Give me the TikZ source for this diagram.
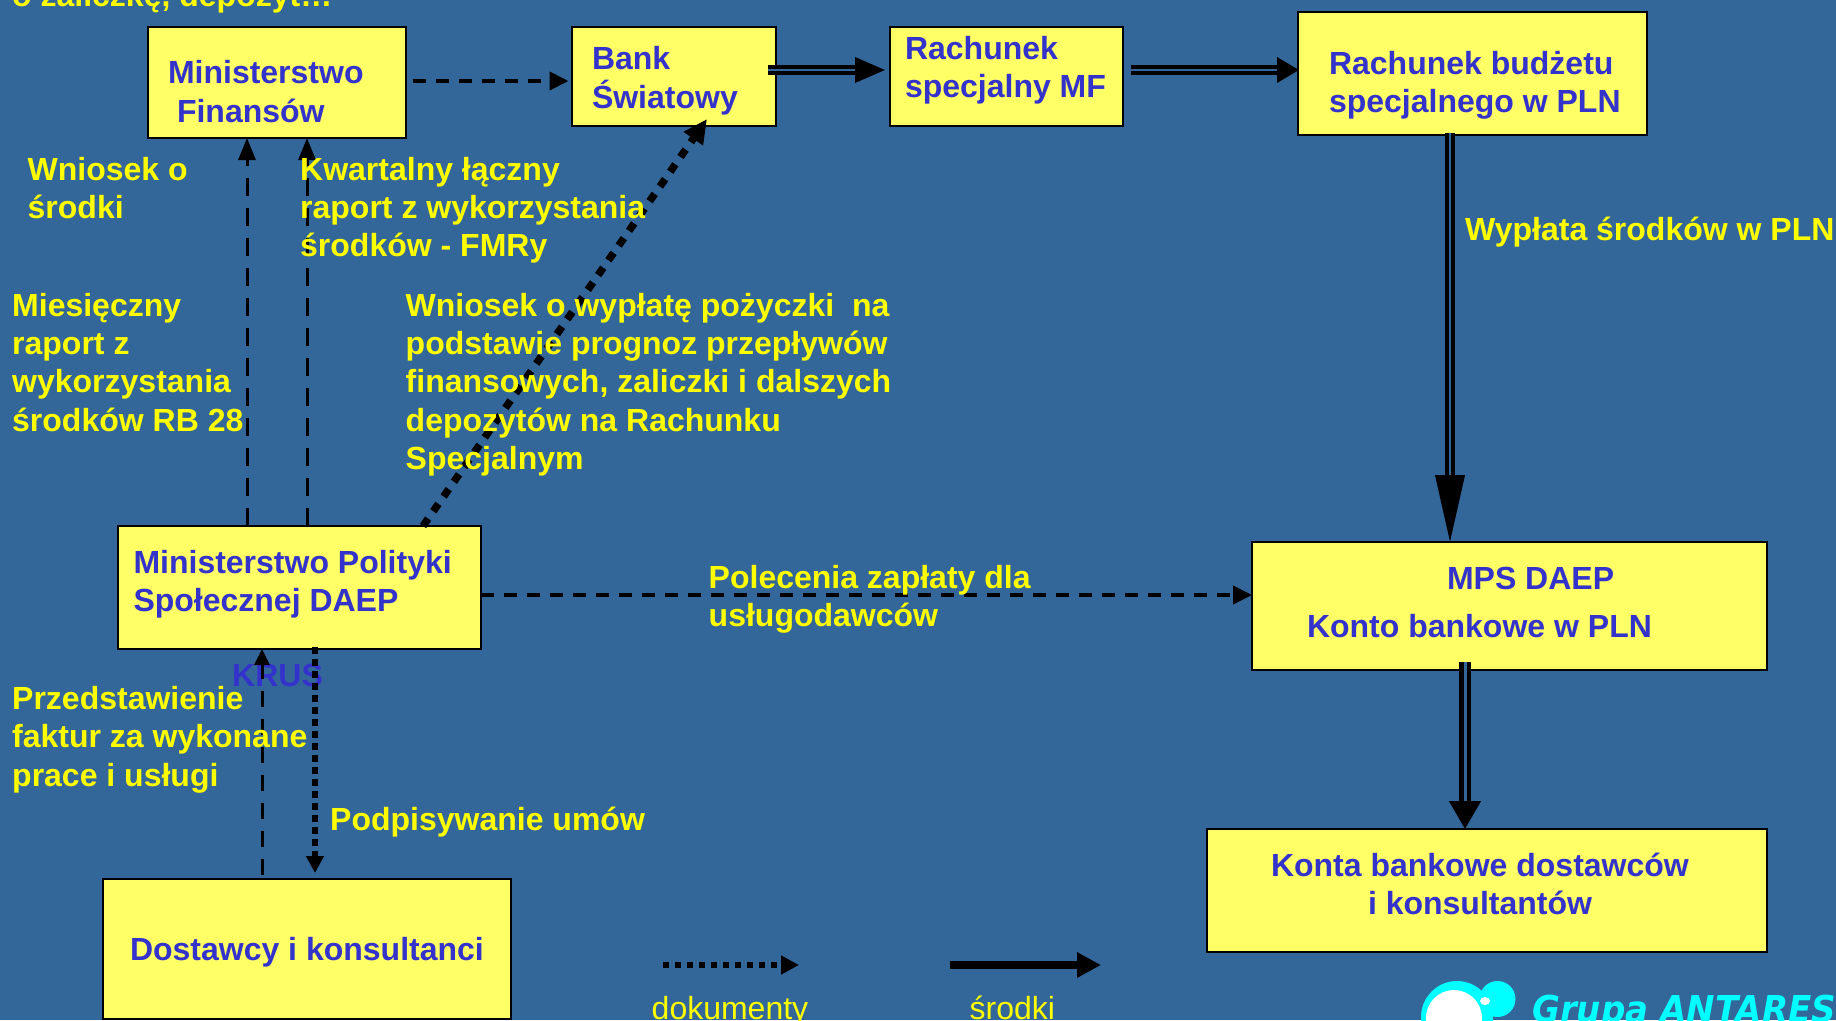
\documentclass[tikz,border=0pt]{standalone}
\usepackage{fontspec}
\usepackage{graphicx}
\setmainfont{Liberation Sans}
\newfontfamily\logofont{DejaVu Sans}
\usetikzlibrary{arrows.meta}
\definecolor{slide}{HTML}{336699}
\definecolor{boxfill}{HTML}{FFFF66}
\definecolor{boxink}{HTML}{3333CC}
\definecolor{labelink}{HTML}{FFFF00}
\definecolor{logoink}{HTML}{00FFFF}
\newcommand\mainsize{\fontsize{32pt}{38.4pt}\selectfont}
% width, height, text x offset, first baseline offset, lines
\newcommand\boxbody[5]{\parbox[c][#2pt][t]{#1pt}{\vspace*{\dimexpr#4pt-26.88pt\relax}\noindent\hspace*{#3pt}\begin{tabular}[t]{@{}l@{}}#5\end{tabular}}}
\newcommand\labellines[1]{\begin{tabular}[t]{@{}l@{}}#1\end{tabular}}
\tikzset{
  boxnode/.style={draw=black,line width=2.8pt,fill=boxfill,inner sep=0pt,outer sep=0pt,text=boxink,font=\mainsize\bfseries},
  flowlabel/.style={anchor=base west,inner sep=0pt,text=labelink,font=\mainsize\bfseries},
  dashflow/.style={draw=black,line width=4pt,dash pattern=on 13pt off 10pt,-{Triangle[length=19pt,width=18pt]}},
  longdash/.style={draw=black,line width=3pt,dash pattern=on 18pt off 12pt,-{Triangle[length=22pt,width=17pt]}},
  dotflow/.style={draw=black,line width=7.5pt,dash pattern=on 9pt off 9pt,-{Triangle[length=24pt,width=22pt]}},
  fundflow/.style={draw=black,double=slide,line width=3.6pt,double distance=2pt,-{Triangle[length=30pt,width=25pt]}},
}
\begin{document}
\begin{tikzpicture}[x=1pt,y=-1pt]
\fill[slide] (0,0) rectangle (1836,1020);
\useasboundingbox (0,0) rectangle (1836,1020);
% boxes
\node[boxnode] (mf) at (277,82.5) {\boxbody{258}{111}{20}{56}{Ministerstwo\\[0.6pt]\hspace{9pt}Finansów}};
\node[boxnode] (bank) at (674,76.5) {\boxbody{204}{99}{20}{42}{Bank\\Światowy}};
\node[boxnode] (rs) at (1006.5,76.5) {\boxbody{233}{99}{15}{32}{Rachunek\\specjalny MF}};
\node[boxnode] (rb) at (1472.5,73.5) {\boxbody{349}{123}{31}{62}{Rachunek budżetu\\specjalnego w PLN}};
\node[boxnode] (mps) at (299.5,587.5) {\boxbody{363}{123}{15.5}{47}{Ministerstwo Polityki\\Społecznej DAEP}};
\node[boxnode] (dost) at (307,949) {\boxbody{408}{140}{27}{81}{Dostawcy i konsultanci}};
\node[boxnode] (konto) at (1509.5,606) {\boxbody{515}{128}{55}{47}{\hspace{140pt}MPS DAEP\\[10pt]Konto bankowe w PLN}};
\node[boxnode] (konta) at (1487,890.5) {\boxbody{560}{123}{64}{47}{Konta bankowe dostawców\\\hspace{97pt}i konsultantów}};
% KRUS sits under the connectors
\node[flowlabel,text=boxink] (krus) at (232,686) {KRUS};
% legend anchors
\coordinate (docstart) at (663,965);
\coordinate (docend) at (799,965);
\coordinate (fundstart) at (950,965);
\coordinate (fundend) at (1101,965);
% connectors
\draw[dashflow] ([xshift=7pt,yshift=1.5pt]mf.east) -- ([xshift=-3.5pt,yshift=-4.5pt]bank.west);
\draw[fundflow] ([xshift=-8pt,yshift=6.5pt]bank.east) -- ([xshift=-5pt,yshift=6.5pt]rs.west);
\draw[fundflow,-{Triangle[length=22pt,width=25pt]}] ([xshift=8pt,yshift=6.5pt]rs.east) -- ([xshift=1pt,yshift=3.5pt]rb.west);
\draw[fundflow,line width=3.8pt,-{Triangle[length=67pt,width=29pt]}] ([xshift=-22.5pt,yshift=2pt]rb.south) -- ([xshift=-59.5pt]konto.north);
\draw[fundflow,line width=4.5pt,double distance=3pt,-{Triangle[length=28pt,width=31pt]}] ([xshift=-44.5pt,yshift=8pt]konto.south) -- ([xshift=-22pt]konta.north);
\draw[longdash] ([xshift=-52.5pt]mps.north) -- ([xshift=-30pt]mf.south);
\draw[longdash] ([xshift=7.5pt]mps.north) -- ([xshift=30pt]mf.south);
\draw[dotflow] ([xshift=123.5pt]mps.north) -- ([xshift=33pt,yshift=7pt]bank.south);
\draw[dashflow] ([yshift=-7.5pt]mps.east) -- ([yshift=11pt]konto.west);
\draw[longdash,dash pattern=on 16pt off 12pt,-{Triangle[length=16pt,width=15pt]}] ([xshift=-45pt,yshift=4pt]dost.north) -- ([xshift=-37.5pt]mps.south);
\draw[dotflow,line width=5.5pt,dash pattern=on 7pt off 5pt,-{Triangle[length=17pt,width=17pt]}] ([xshift=15.5pt,yshift=2pt]mps.south) -- ([xshift=8pt,yshift=6pt]dost.north);
\draw[dotflow,line width=6pt,dash pattern=on 6pt off 6pt,-{Triangle[length=18pt,width=18pt]}] (docstart) -- (docend);
\draw[draw=black,line width=8pt,-{Triangle[length=24pt,width=24pt]}] (fundstart) -- (fundend);
% labels
\node[flowlabel] (l0) at (12,6) {o zaliczkę, depozyt…};
\node[flowlabel] (l1) at (27.5,180) {\labellines{Wniosek o\\środki}};
\node[flowlabel] (l2) at (300,180) {\labellines{Kwartalny łączny\\raport z wykorzystania\\środków - FMRy}};
\node[flowlabel] (l3) at (12,316) {\labellines{Miesięczny\\raport z\\wykorzystania\\środków RB 28}};
\node[flowlabel] (l4) at (405.5,316) {\labellines{Wniosek o wypłatę pożyczki \ na\\podstawie prognoz przepływów\\finansowych, zaliczki i dalszych\\depozytów na Rachunku\\Specjalnym}};
\node[flowlabel] (l5) at (708.5,588) {\labellines{Polecenia zapłaty dla\\usługodawców}};
\node[flowlabel] (l6) at (12,709) {\labellines{Przedstawienie\\faktur za wykonane\\[0.8pt]prace i usługi}};
\node[flowlabel] (l7) at (330,830) {Podpisywanie umów};
\node[flowlabel] (l8) at (1465,240) {Wypłata środków w PLN};
\node[flowlabel,font=\mainsize] (docs) at (651.5,1019) {dokumenty};
\node[flowlabel,font=\mainsize] (funds) at (969.5,1019) {środki};
% logo
\fill[logoink] (1457,1017) circle (36);
\fill[white] (1454,1018) circle (28);
\fill[logoink] (1497.5,999) circle (18);
\fill[white] (1485,1001) ellipse (5 and 4);
\node[flowlabel,text=logoink,font=\logofont\fontsize{37pt}{40pt}\selectfont\bfseries\itshape] (logo) at (1532,1022) {\scalebox{0.92}[1]{Grupa ANTARES}};
\end{tikzpicture}
\end{document}
